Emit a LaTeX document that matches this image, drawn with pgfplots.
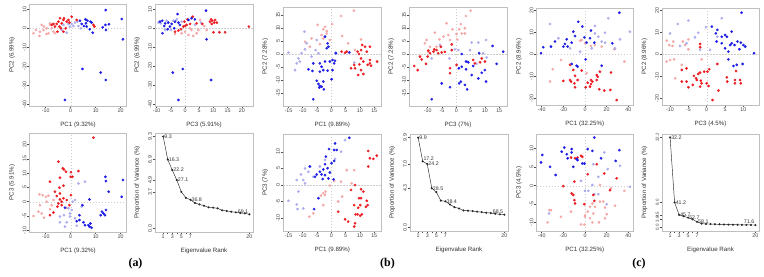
\documentclass[border=0pt]{standalone}
\usepackage{fontspec}
\setmainfont{Liberation Sans}
\newfontfamily\panelfont{Liberation Serif}
\usepackage{pgfplots}
\pgfplotsset{compat=1.18}

\definecolor{rRed}{RGB}{236,30,36}
\definecolor{rPink}{RGB}{244,168,168}
\definecolor{rLBlue}{RGB}{172,172,238}
\definecolor{rBlue}{RGB}{30,30,230}

\pgfplotsset{
  rpanel/.style={
    scale only axis,
    axis line style={gray!50, line width=0.5bp},
    tick style={black!70, line width=0.45bp},
    major tick length=2.2bp,
    tick align=outside,
    xtick pos=bottom, ytick pos=left,
    tick label style={font=\fontsize{5.3}{6}\selectfont, text=black!75},
    xticklabel style={inner sep=0.6bp},
    yticklabel style={rotate=90, anchor=south, inner sep=0.6bp},
    label style={font=\fontsize{6.2}{7}\selectfont, text=black!80},
    xlabel style={at={(axis description cs:0.5,-0.19)}, anchor=center},
    ylabel style={at={(axis description cs:-0.18,0.5)}, anchor=center},
  },
  pts/.style={only marks, mark=*, mark size=1.15bp, color=#1},
  scree/.style={rpanel, xmin=-0.8, xmax=20.8,
    xtick={1,2,3,4,5,6,7,20}, xticklabels={1,,3,,5,,7,20},
    xlabel={Eigenvalue Rank}, ylabel={Proportion of Variance (\%)}},
  screeline/.style={black!85, line width=0.45bp, mark=*, mark size=0.8bp},
  screelab/.style={only marks, mark=none, nodes near coords, point meta=explicit symbolic,
    every node near coord/.style={font=\fontsize{5.3}{6}\selectfont, text=black!80, anchor=west, inner sep=1bp}},
}

\newcommand{\zerolines}{%
  \draw[gray!40, dash pattern=on 1.5bp off 1.5bp, line width=0.35bp]
    ({axis cs:0,0} |- {rel axis cs:0,0}) -- ({axis cs:0,0} |- {rel axis cs:0,1});
  \draw[gray!40, dash pattern=on 1.5bp off 1.5bp, line width=0.35bp]
    ({rel axis cs:0,0} |- {axis cs:0,0}) -- ({rel axis cs:1,0} |- {axis cs:0,0});
}

\begin{document}
\begin{tikzpicture}
\useasboundingbox (0,0) rectangle (764bp,-277bp);

% ---------------- group (a) ----------------
\begin{axis}[rpanel, at={(29.5bp,-106bp)}, anchor=south west, width=97bp, height=102bp,
  xmin=-16.48, xmax=22.32, ymin=-40.89, ymax=12.79,
  xtick={-10,0,10,20}, xticklabels={-10,0,10,20},
  ytick={-40,-30,-20,-10,0,10}, yticklabels={-40,-30,-20,-10,0,10},
  xlabel={PC1 (9.32\%)}, ylabel={PC2 (6.99\%)}]
\zerolines
\addplot[pts=rPink] coordinates {(-14.9,-2.6)(-12.3,-1.8)(-10.9,-0.9)(-9.6,0)(-8.3,1.8)(-8.3,2.6)(-10.7,0.9)(-12.5,-4)(-8.9,-2.6)(-11.6,1.8)(-13.9,-0.9)(-9.7,-3)(-6.9,-1.8)(-7.6,0)(-6.3,-2.6)};
\addplot[pts=rLBlue] coordinates {(2.7,3.5)(1.7,3)(0.4,2.3)(-0.9,2.3)(-1.6,-2.3)(-0.3,0.9)(-2.9,1.8)(3.1,1.2)(4.1,0)(1.1,1.2)(-3.6,-0.9)};
\addplot[pts=rRed] coordinates {(9.5,0.9)(9.1,1.8)(0.4,6.1)(-0.9,4.4)(-1.6,3.5)(-2.9,4.4)(-3.6,2.6)(-4.9,3.5)(-5.6,2.3)(-4.5,0.9)(-6.3,0.9)(-6.9,2.3)(-5.3,-1.8)(-2.9,-1.8)(-3.9,0)(-2,0)(-0.5,3)(2.4,4.4)(-2.7,5.3)(-4.3,5.3)(-7.6,1.8)};
\addplot[pts=rBlue] coordinates {(14,9.6)(20.4,4.9)(20.9,-5.8)(4.7,-21.4)(12,-23.3)(14,-27.2)(-2.3,-37.7)(15.3,2.1)(13.9,1.8)(12.8,0.5)(14.1,-0.9)(8.8,-2.3)(7.6,-0.5)(7.9,3.5)(6.1,2.6)(6.7,4)(5.9,4.7)(8.4,3)(4.4,2.3)(3.7,4)(5.3,1.2)(6.4,0.9)};
\end{axis}

\begin{axis}[rpanel, at={(155bp,-106bp)}, anchor=south west, width=98bp, height=102bp,
  xmin=-10.56, xmax=23.94, ymin=-40.89, ymax=12.79,
  xtick={-10,-5,0,5,10,15,20}, xticklabels={-10,-5,0,5,10,15,20},
  ytick={-40,-30,-20,-10,0,10}, yticklabels={-40,-30,-20,-10,0,10},
  xlabel={PC3 (5.91\%)}, ylabel={PC2 (6.99\%)}]
\zerolines
\addplot[pts=rPink] coordinates {(2.3,-0.9)(1.2,-3.5)(2.9,-4)(4.1,-2.6)(-1.2,-2.6)(0,-1.8)(4.7,-0.9)(6.8,1.2)(5.3,4.4)(1.8,0)(-3.5,-3)(7.6,-0.9)};
\addplot[pts=rLBlue] coordinates {(-8.5,2.6)(-6.5,4)(-4.1,4)(-2.9,4.7)(-1.2,3.5)(-9.4,3)(-4.9,-0.9)(3.5,1.8)(5.6,3)(-7,-0.9)};
\addplot[pts=rRed] coordinates {(2.7,6.1)(0.9,4.7)(-0.2,3.5)(0.6,1.8)(1.8,2.3)(-0.6,0.9)(-3.5,-1.8)(-2.3,-1.2)(-1.4,-0.5)(0,1.2)(6.1,2.3)(8.8,3.5)(9.6,4)(10.3,3)(11.2,3)(10.6,4.4)(9.4,2.3)(12.1,-2.1)(14.1,-2.1)(10,-2.1)(22.5,0.9)(4.1,2.6)(9.2,4.7)};
\addplot[pts=rBlue] coordinates {(7.4,9.3)(-2.6,7.5)(2.3,5.3)(3.5,4.7)(1.2,4.4)(-8,4)(-8.8,3.5)(-7,2.6)(-5.9,3)(-4.7,2.3)(-3.5,3.5)(-2.3,3)(-7.9,-2.6)(-7.3,1.2)(-5.3,0.9)(-6.1,-0.5)(7.6,-5.8)(-4.3,-23.3)(-0.8,-21.4)(9.2,-27.2)(-2.3,-37.7)(-1.8,1.8)(-3.8,0)};
\end{axis}

\begin{axis}[rpanel, at={(29.5bp,-232bp)}, anchor=south west, width=97bp, height=99bp,
  xmin=-16.48, xmax=22.32, ymin=-10.59, ymax=24.02,
  xtick={-10,0,10,20}, xticklabels={-10,0,10,20},
  ytick={-10,-5,0,5,10,15,20}, yticklabels={-10,-5,0,5,10,15,20},
  xlabel={PC1 (9.32\%)}, ylabel={PC3 (5.91\%)}]
\zerolines
\addplot[pts=rPink] coordinates {(-12.5,2.6)(-11.2,2.3)(-9.9,1.7)(-8.9,2.1)(-9.6,0)(-12.3,-1.2)(-12.9,-3.5)(-11.6,-4.1)(-14.9,-5)(-10.7,-5.6)(-7.6,-1.2)(-6.9,0.6)(-8.3,-2.6)(-1.6,-2.1)};
\addplot[pts=rLBlue] coordinates {(3.1,6.4)(5.7,7)(0.8,0)(1.7,0.6)(-0.9,-2.3)(0.4,-2.9)(-2.7,-4.7)(-4.3,-7.2)(-1.6,-7.2)(-2.3,-8.7)(2.4,-8.4)(-0.3,-5.2)(1.7,-5.8)(4.4,-1.7)(-4.3,-5.2)(-0.3,-4.1)};
\addplot[pts=rRed] coordinates {(9.1,22.4)(-4.9,14)(-3.2,11.7)(-2.7,11.3)(-1.9,10.5)(-4.3,8.4)(0.1,10.3)(0.7,8.7)(0,8.7)(3.1,10.7)(-8.3,7)(-2.9,5.6)(-4.5,4.9)(-6.3,3.5)(-4.3,2.9)(-5.6,2)(-2.9,1.2)(0.1,2.3)(-4.3,0.8)(-3.6,0)(-4.9,-0.6)(-5.3,-1.7)(-3.6,-1.2)(-6.9,-3.8)(-8.3,-4.7)(-1.6,0.6)(-0.5,-1.2)};
\addplot[pts=rBlue] coordinates {(13.9,8.7)(14.1,7.2)(20.9,7.6)(15.2,3.5)(20.4,1.7)(7.5,0.8)(-2.3,-2.1)(4.7,-1.2)(3.5,-4.7)(3.5,-6.4)(5.1,-7.2)(7.1,-8.2)(7.9,-7.6)(8.3,-9.1)(7.5,-8.7)(5.7,-8.2)(12,-4.7)(13.1,-4.1)(13.7,-4.7)(14.1,-2.9)(12.5,-3.5)(2.4,-6.8)};
\end{axis}

\begin{axis}[scree, at={(155bp,-232bp)}, anchor=south west, width=98bp, height=99bp,
  ymin=-0.372, ymax=9.672,
  ytick={0,3.7,4.9,6.99,9.32}, yticklabels={0.0,3.7,4.9,6.9,9.3}]
\addplot[screeline] coordinates {(1,9.32)(2,6.99)(3,5.91)(4,4.9)(5,3.7)(6,3.1)(7,2.9)(8,2.57)(9,2.43)(10,2.30)(11,2.13)(12,2.10)(13,2.03)(14,1.83)(15,1.76)(16,1.69)(17,1.62)(18,1.56)(19,1.52)(20,1.42)};
\addplot[screelab] coordinates {(1,9.32)[9.3] (2,6.99)[16.3] (3,5.91)[22.2] (4,4.9)[27.1] (7,2.9)[36.8]};
\addplot[screelab, every node near coord/.append style={anchor=south east}] coordinates {(20,1.42)[69.1]};
\end{axis}

% ---------------- group (b) ----------------
\begin{axis}[rpanel, at={(283bp,-106bp)}, anchor=south west, width=98.5bp, height=99bp,
  xmin=-16.89, xmax=17.55, ymin=-20.0, ymax=18.08,
  xtick={-15,-10,-5,0,5,10,15}, xticklabels={-15,-10,-5,0,5,10,15},
  ytick={-15,-10,-5,0,5,10,15}, yticklabels={-15,-10,-5,0,5,10,15},
  xlabel={PC1 (9.89\%)}, ylabel={PC2 (7.28\%)}]
\zerolines
\addplot[pts=rPink] coordinates {(7.9,16.7)(3.4,14.6)(0.3,11.5)(-2.2,10.5)(-2.8,9.5)(-1.6,7.9)(-3.4,7.3)(-4.8,11.2)(-1.6,8.8)(3.8,6.9)(5.9,4.1)(10.4,5.6)(8.3,1.5)(-0.5,5.4)(-7.5,2.8)(-9.2,4.7)(-6.9,6)(-2.8,6)(-4,3.8)};
\addplot[pts=rLBlue] coordinates {(-15,0.5)(-9.2,1.8)(-9.4,8.6)(-8.6,4.1)(-11.5,-1.7)(-12.1,-3.6)(-12.7,-6.2)(-11,-2.9)(-10.4,0.3)(-6.9,-1)(-5.5,1.5)(-4.5,0.3)(1.5,0.5)(8,-3.3)(-5.1,5.4)};
\addplot[pts=rRed] coordinates {(9.2,0.9)(9.7,0)(10.4,1.5)(10.8,3.5)(11.8,2.8)(13.5,2.8)(12.4,0.9)(10.4,-1.7)(11.2,-2.9)(13.5,-2.3)(13.5,-3.6)(13.9,-4.5)(12.7,-4.2)(16,-2.9)(8,-4.2)(8.3,-5.5)(6.9,-5.5)(9.8,-4)(10.4,-6.2)(11.2,-7.7)(9.4,-8.1)(4.8,0.5)(3.6,0.9)(5.4,0.9)};
\addplot[pts=rBlue] coordinates {(-2.2,6.7)(-1.3,4.1)(-1,2.8)(-1.6,2.2)(1.6,0.3)(0.4,-2.3)(1.0,-3.6)(-0.5,-2.9)(-2.2,-2.9)(-4,-3.6)(-3.4,-4.9)(-6.3,-3.6)(-8,-5.9)(-6.6,-6.5)(-2.8,-6.2)(-4,-6.8)(-1.3,-6.4)(0.4,-6.2)(-5.1,-10.3)(-4.5,-11.5)(-4,-12.3)(-2.8,-10.6)(-3.4,-12.6)(-2.6,-13.6)(0.1,-9.7)(-4.2,-12.9)(-6.3,-17.4)(6.3,0.6)(1.3,-2.6)};
\end{axis}

\begin{axis}[rpanel, at={(409bp,-106bp)}, anchor=south west, width=98bp, height=99bp,
  xmin=-16.54, xmax=17.73, ymin=-20.0, ymax=18.08,
  xtick={-10,-5,0,5,10,15}, xticklabels={-10,-5,0,5,10,15},
  ytick={-15,-10,-5,0,5,10,15}, yticklabels={-15,-10,-5,0,5,10,15},
  xlabel={PC3 (7\%)}, ylabel={PC2 (7.28\%)}]
\zerolines
\addplot[pts=rPink] coordinates {(5,16.7)(3.4,14.6)(1.6,11.5)(-1.3,9.5)(1.0,9.5)(3,7.9)(1.9,7.9)(-2.8,7.3)(-4.5,6.7)(-5.9,5.6)(-7.5,8.2)(-10.4,5.4)(-11,4.1)(-9.2,2.8)(-9.8,0.9)(-2.2,5.4)(-6.9,2.8)(0.3,5.6)(-3.4,11.8)(3,9.9)(0.1,7.7)};
\addplot[pts=rLBlue] coordinates {(-5.7,3.5)(-0.5,1.8)(0.7,1.5)(3.8,-2.9)(5.4,4.4)(7.7,4.4)(10.4,5.4)(9.4,0.3)(10.6,-1.3)(7.1,-3.8)(-2.4,-1.7)(4.8,1.5)(-8.6,-1.7)};
\addplot[pts=rRed] coordinates {(-1.6,1.5)(-5.4,2.8)(-7.7,1.8)(-8,0.9)(-9.2,0.3)(-9.8,1.3)(-12.7,-1)(-12.1,-2.1)(-14.7,-4.6)(-13.5,-6.2)(-10.6,-3.8)(-10,-1)(-6.3,0.3)(-5.1,0.6)(-6.9,1.5)(-2.2,-5.5)(-2.2,-7.4)(0.1,-4.2)(5.9,-2.3)(6.5,-3.6)(8.3,-3.2)(8.9,-1.7)(10,-2.9)(-1.6,3.7)(-4,0.8)};
\addplot[pts=rBlue] coordinates {(12.7,3.1)(16.4,0.9)(14.1,-3.8)(8,0.3)(1.9,0)(3.4,-2.9)(4.2,-3.2)(0.9,-5.5)(1.9,-4.9)(3.4,-5.9)(5.4,-8.1)(7.7,-9.4)(8.9,-7.2)(10.4,-10.6)(1.6,-10.6)(1.0,-11.3)(3,-11.9)(3.8,-13.6)(-5.1,-11.3)(-2.2,-12.8)(-8.6,-17.4)(5.9,-4.6)(10,-6.2)};
\end{axis}

\begin{axis}[rpanel, at={(283bp,-231bp)}, anchor=south west, width=98.5bp, height=97bp,
  xmin=-16.89, xmax=17.55, ymin=-13.94, ymax=15.45,
  xtick={-15,-10,-5,0,5,10,15}, xticklabels={-15,-10,-5,0,5,10,15},
  ytick={-10,-5,0,5,10}, yticklabels={-10,-5,0,5,10},
  xlabel={PC1 (9.89\%)}, ylabel={PC3 (7\%)}]
\zerolines
\addplot[pts=rPink] coordinates {(1,1.2)(5.4,4.5)(8,4.5)(-0.5,-0.2)(-2,-2)(-2.8,-2.5)(-3.6,-3.2)(-2.2,-3)(3.8,-3.5)(2.4,-5)(-2.8,-6.1)(-7.7,-9.6)(-6.3,-8.6)(7.1,0.5)(3.4,1)};
\addplot[pts=rLBlue] coordinates {(4.8,13.6)(3.4,10.1)(1.3,7.9)(-9.2,5)(-8,4)(-10.6,3.2)(-12.1,1.5)(-9.8,1.5)(-9.2,0.5)(-11.5,-2)(-15,-4.8)(-12.1,-5.9)(-11.8,-7.3)(-9.8,-7.1)(-6.3,2.5)(-4,5.6)(-2.2,7.6)};
\addplot[pts=rRed] coordinates {(12.9,10.3)(13.5,8.1)(14.7,7.9)(15.9,8.9)(12.9,5.6)(8.3,0)(6.9,-1.5)(10.4,-1.3)(11.2,-2)(10.4,-4)(9.7,-4)(8.0,-6.1)(10.1,-6.1)(9.4,-6.9)(12.4,-4.8)(12.7,-6.1)(12.1,-6.6)(9.2,-8.9)(10.1,-9.3)(10.7,-8.9)(8.5,-8.9)(4.8,-10.4)(5.9,-11.1)(8.3,-11.6)(8,-12.6)(2.4,-8.1)};
\addplot[pts=rBlue] coordinates {(6.3,14.3)(1.3,12.6)(-0.8,10.9)(1.0,10.6)(1.9,10.6)(-1.9,8.6)(1.0,7.3)(0.1,6.6)(-2.2,6.3)(-1.3,5.1)(-2.8,4.7)(-4,4)(-3.4,3.2)(-5.1,3.2)(-2.2,3)(-1,2)(0.8,1.7)(-3,1.8)(-7.5,5.6)(-5.7,2.5)(-4.5,-4)(-6,-7.3)(-0.5,3.8)};
\end{axis}

\begin{axis}[scree, at={(410bp,-231bp)}, anchor=south west, width=98bp, height=97bp,
  ymin=-0.396, ymax=10.296,
  ytick={0,4.32,7.0,9.89}, yticklabels={0.0,4.3,7.0,9.9}]
\addplot[screeline] coordinates {(1,9.89)(2,7.28)(3,7.0)(4,4.32)(5,3.89)(6,2.95)(7,2.88)(8,2.52)(9,2.23)(10,2.09)(11,1.87)(12,1.84)(13,1.80)(14,1.73)(15,1.69)(16,1.62)(17,1.58)(18,1.51)(19,1.44)(20,1.40)};
\addplot[screelab] coordinates {(1,9.89)[9.9] (3,7.0)[24.2] (4,4.32)[28.5] (7,2.88)[38.4]};
\addplot[screelab, every node near coord/.append style={anchor=south west, inner sep=0.6bp}] coordinates {(2,7.28)[17.2]};
\addplot[screelab, every node near coord/.append style={anchor=south east}] coordinates {(20,1.40)[68.5]};
\end{axis}

% ---------------- group (c) ----------------
\begin{axis}[rpanel, at={(536.5bp,-105bp)}, anchor=south west, width=96.5bp, height=97bp,
  xmin=-44.77, xmax=44.31, ymin=-23.05, ymax=21.05,
  xtick={-40,-20,0,20,40}, xticklabels={-40,-20,0,20,40},
  ytick={-20,-10,0,10,20}, yticklabels={-20,-10,0,10,20},
  xlabel={PC1 (32.25\%)}, ylabel={PC2 (8.96\%)}]
\zerolines
\addplot[pts=rPink] coordinates {(-4.6,6.2)(0,5)(5.5,3.8)(15.4,3.5)(27.1,2.3)(36.3,-3.3)(-22.2,-2.6)(-29.8,-6.8)(-32.3,-12.4)(1.5,-8.6)(9.2,4.2)(-3.1,6.5)};
\addplot[pts=rLBlue] coordinates {(-32.3,13.8)(21.5,16.4)(18.5,9.8)(12.3,8)(9.2,12.9)(41.5,10.3)(32.3,6.8)(-24.6,7.3)(-13.8,2.7)(6.2,2.7)(18.5,5.3)(15.4,5.8)(-4.6,1.2)(27.7,2.7)(9.2,9.5)};
\addplot[pts=rRed] coordinates {(-13.8,-4.8)(-10.8,-7.1)(-3.1,-7.4)(-9.2,-9.8)(-20,-12.1)(-13.8,-11.7)(-12.9,-12.4)(-9.8,-13.2)(-9.2,-15)(-6.8,-11.7)(2.5,-12.9)(5.5,-11.7)(6.8,-12.4)(5.5,-13.5)(0.6,-15)(4.6,-14.7)(10.8,-9.4)(11.7,-10.2)(10.8,-11.7)(24,-8.3)(13.2,-15.9)(17.8,-16.5)(23.4,-16.2)(29.2,-20.8)(13.8,-7.9)};
\addplot[pts=rBlue] coordinates {(31.7,18.9)(5.5,10.8)(-2.5,12.6)(-6.2,14.8)(-9.2,8.3)(-10.8,10.3)(-16.9,6.8)(-18.5,4.7)(-20,3.5)(-27.7,5.8)(-31.4,3.5)(-38.5,3.2)(-40.6,0.5)(-16,3.5)(-12.3,5.3)(4.6,7.3)(8.6,5.3)(0.6,-2.3)(-12.3,-4.4)(-7.7,-5.2)(-6.8,-5.6)(15.4,-5.2)(25.2,5)(-0.6,7.7)(1.5,5.3)};
\end{axis}

\begin{axis}[rpanel, at={(662bp,-105bp)}, anchor=south west, width=97bp, height=97bp,
  xmin=-12.19, xmax=14.26, ymin=-23.05, ymax=21.05,
  xtick={-10,-5,0,5,10}, xticklabels={-10,-5,0,5,10},
  ytick={-20,-10,0,10,20}, yticklabels={-20,-10,0,10,20},
  xlabel={PC3 (4.5\%)}, ylabel={PC2 (8.96\%)}]
\zerolines
\addplot[pts=rPink] coordinates {(-10.9,6.2)(-10.2,4.2)(-9.1,5.8)(-9.3,3.8)(-6.5,5.8)(-5,6.8)(-5.9,4.2)(-10.9,-3.3)(-10,-2.6)(-8.9,-2.3)(-6.8,-4.8)(-8.6,-10.9)(-1.4,-2.3)(-5,2.3)};
\addplot[pts=rLBlue] coordinates {(4.1,16.4)(-7.9,13.8)(-5,15.3)(-0.2,12.3)(-2.3,9.8)(-3.2,7.7)(0.9,2)(-1.8,2)(-7.3,3.8)(-5.5,5)(-10,9.5)(2.9,8)};
\addplot[pts=rRed] coordinates {(-1.8,4.7)(-1.8,3.2)(-6.8,-7.1)(-5.5,-6.4)(-3.5,-9.8)(-2.3,-8.9)(-1.8,-8.3)(-0.7,-7.9)(0.2,-7.9)(0.7,-6.8)(2.9,-4.4)(-2.9,-10.9)(-2.7,-11.7)(-1.6,-12)(-1.4,-13.2)(-1.8,-14.7)(0,-13.2)(0.5,-14.4)(-5,-15)(-3.8,-13.9)(-6.8,-12.4)(3.2,-16.5)(1.6,-20.8)(8,-7.6)(5.5,-10.5)(5.6,-12.4)(7.7,-11.7)(7.7,-13.2)(9.1,-11.7)(9.3,-13.2)(-5.5,-12.4)};
\addplot[pts=rBlue] coordinates {(9.5,18.9)(1.4,12.6)(2.9,11.1)(2.5,9.5)(4.1,8)(5,8.8)(5.5,8)(6.8,10.3)(8.4,5.8)(9.3,5.3)(7.6,4.2)(6.8,5)(6.4,4.2)(5,2.7)(5.9,1.2)(10,4.2)(10.5,3.5)(8.9,2.3)(12.9,0.5)(5.9,-2.3)(7.3,-5.3)(8.2,-4.8)(9.8,-4.4)(2.7,5.8)(4.1,5)};
\end{axis}

\begin{axis}[rpanel, at={(536.5bp,-231bp)}, anchor=south west, width=96.5bp, height=97bp,
  xmin=-44.77, xmax=44.31, ymin=-12.24, ymax=13.97,
  xtick={-40,-20,0,20,40}, xticklabels={-40,-20,0,20,40},
  ytick={-10,-5,0,5,10}, yticklabels={-10,-5,0,5,10},
  xlabel={PC1 (32.25\%)}, ylabel={PC3 (4.5\%)}]
\zerolines
\addplot[pts=rPink] coordinates {(24,-0.7)(13.8,0.2)(16.9,-4.3)(13.8,-4.3)(6.8,-4.8)(4.6,-5.7)(9.2,-5.7)(18.5,-5.9)(27.7,-5.4)(2.5,-7)(7.7,-7.5)(0,-8.4)(4.6,-8.8)(6.8,-9.9)(12.9,-9.9)(-3.7,-10.5)(-0.6,-10.5)(-32.9,-6.6)(-31.4,-6.6)(-22.2,-8.4)(-34.5,-9.9)(-12.9,-7)(0,-8)(20,-7.7)(18.5,-8.8)(36.3,-1.4)};
\addplot[pts=rLBlue] coordinates {(17.8,9)(20.9,4.5)(32.3,5.4)(41.5,-0.3)(7.7,5.8)(-3.7,1.3)(6.8,0.2)(3.1,-1.4)(12.3,-2.3)(8.6,-2.3)(-33.2,-7.5)(12.3,2.4)(20,-5)(0,-1.4)};
\addplot[pts=rRed] coordinates {(-3.7,8.1)(-2.5,7.8)(-12.9,7.6)(-9.2,7.4)(-6.8,7.6)(10.8,5.8)(17.8,3.3)(-9.8,1.1)(-20,-0.1)(-12.3,-2.1)(-10.8,-2.5)(7.7,-2.5)(8.6,-4.1)(-9.8,-3.9)(-9.2,-4.8)(-0.6,-5)(23.1,-1.2)(29.2,2)(2.5,3.1)};
\addplot[pts=rBlue] coordinates {(8.6,13)(-19.1,10.3)(-12.3,9.9)(2.5,9.9)(6.8,9.4)(-21.5,9.2)(-16.9,8.5)(-16,7.4)(-12.3,9)(-6.8,6.9)(-7.7,7.2)(-2.5,6)(-0.6,6)(14.8,7.4)(28.3,6.7)(31.7,9.6)(-39.4,8.3)(-40.6,6.3)(-32.3,5.1)(-10.8,5.1)(-27.1,2.9)};
\end{axis}

\begin{axis}[scree, at={(662bp,-231bp)}, anchor=south west, width=97bp, height=97bp,
  ymin=-1.288, ymax=33.488,
  ytick={0,3.0,4.5,8.96,32.25}, yticklabels={0.0,3.0,4.5,9.0,32.2},
  yticklabel style={font=\fontsize{4.4}{5}\selectfont}]
\addplot[screeline] coordinates {(1,32.25)(2,8.96)(3,4.5)(4,4.0)(5,3.5)(6,2.9)(7,2.0)(8,1.35)(9,1.25)(10,1.2)(11,1.15)(12,1.1)(13,1.05)(14,1.0)(15,0.98)(16,0.95)(17,0.92)(18,0.9)(19,0.87)(20,0.85)};
\addplot[screelab] coordinates {(1,32.25)[32.2] (2,8.96)[41.2] (3,4.5)[45.7] (5,3.5)[52.7] (7,2.0)[58.1]};
\addplot[screelab, every node near coord/.append style={anchor=south east}] coordinates {(20,0.85)[71.6]};
\end{axis}

% panel letters
\node[font=\panelfont\bfseries\fontsize{12}{14}\selectfont] at (135.5bp,-264bp) {(a)};
\node[font=\panelfont\bfseries\fontsize{12}{14}\selectfont] at (387.5bp,-264bp) {(b)};
\node[font=\panelfont\bfseries\fontsize{12}{14}\selectfont] at (639bp,-264bp) {(c)};
\end{tikzpicture}
\end{document}
